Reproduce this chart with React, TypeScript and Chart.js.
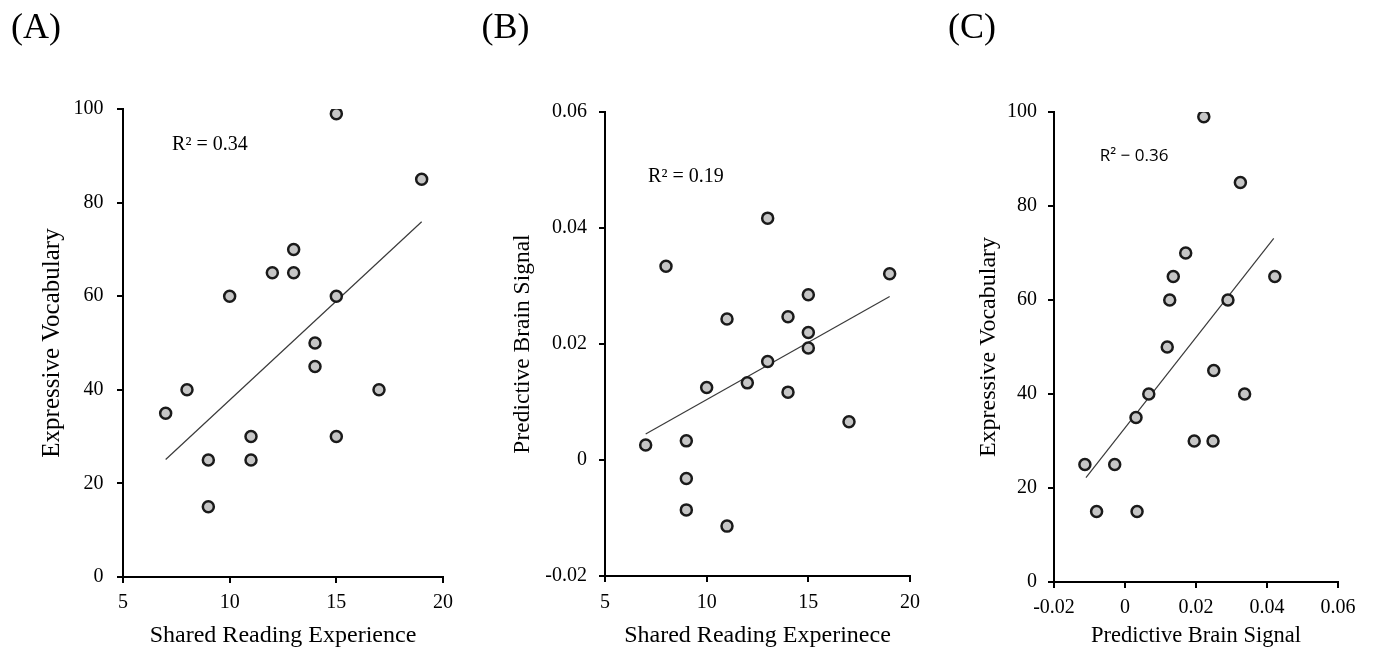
import React, { useEffect, useRef } from 'react';
import { Chart, registerables } from 'chart.js';

Chart.register(...registerables);

// ---------- Panel A: Shared reading vs expressive vocabulary ----------
const readingA = [15, 19, 13, 12, 13, 10, 15, 14, 14, 8, 17, 7, 11, 15, 9, 11, 9];
const vocabA = [99, 85, 70, 65, 65, 60, 60, 50, 45, 40, 40, 35, 30, 30, 25, 25, 15];
const fitA_x = [7, 19];
const fitA_y = [25.1, 75.9];
const r2A = 'R² = 0.34';

// ---------- Panel B: Shared reading vs predictive brain signal ----------
const readingB = [13, 8, 19, 15, 11, 14, 15, 15, 13, 10, 12, 14, 17, 7, 9, 9, 9, 11];
const brainB = [0.0417, 0.0334, 0.0321, 0.0285, 0.0243, 0.0247, 0.022, 0.0193, 0.017, 0.0125, 0.0133, 0.0117, 0.0066, 0.0026, 0.0033, -0.0032, -0.0086, -0.0114];
const fitB_x = [7, 19];
const fitB_y = [0.0045, 0.0282];
const r2B = 'R² = 0.19';

// ---------- Panel C: Predictive brain signal vs expressive vocabulary ----------
const brainC = [0.0222, 0.0325, 0.0171, 0.0136, 0.0422, 0.0126, 0.029, 0.0119, 0.025, 0.0067, 0.0337, 0.0031, 0.0195, 0.0248, -0.0113, -0.0029, -0.008, 0.0034];
const vocabC = [99, 85, 70, 65, 65, 60, 60, 50, 45, 40, 40, 35, 30, 30, 25, 25, 15, 15];
const fitC_x = [-0.011, 0.0419];
const fitC_y = [22.2, 73.1];
const r2C = 'R² − 0.36';

const panelLabels = ['(A)', '(B)', '(C)'];

const SERIF = '"Liberation Serif", "Times New Roman", Times, serif';
const SANS = '"Open Sans", "Liberation Sans", Arial, sans-serif';

const rsqPlugin = {
  id: 'rsqText',
  afterDatasetsDraw(chart: any, _args: any, opts: any) {
    if (!opts || !opts.text) return;
    const { ctx } = chart;
    const xs = chart.scales.x;
    const ys = chart.scales.y;
    ctx.save();
    ctx.font = opts.font;
    ctx.fillStyle = '#000';
    ctx.textAlign = 'left';
    ctx.textBaseline = 'alphabetic';
    ctx.fillText(opts.text, xs.getPixelForValue(opts.x), ys.getPixelForValue(opts.y));
    ctx.restore();
  },
};

function fmt(v: number, dec: number) {
  if (Math.abs(v) < 1e-9) return '0';
  return dec > 0 ? v.toFixed(dec) : String(Math.round(v));
}

interface PanelCfg {
  xs: number[];
  ys: number[];
  fx: number[];
  fy: number[];
  xMin: number; xMax: number; xStep: number; xDec: number;
  yMin: number; yMax: number; yStep: number; yDec: number;
  xTitle: string; yTitle: string;
  xTitleSize: number; yTitleSize: number;
  boxLeft: number; areaLeft: number; areaRight: number; areaTop: number; areaBottom: number;
  yTitlePad: number; yTickPad: number; xTickPad: number;
  r2: { text: string; x: number; y: number; font: string };
}

function makeConfig(p: PanelCfg): any {
  const W = 1374, H = 650;
  const axisCommon = {
    border: { display: true, color: '#000', width: 2 },
    grid: {
      display: true,
      drawOnChartArea: false,
      drawTicks: true,
      tickLength: 6,
      tickWidth: 2,
      tickColor: '#000',
      lineWidth: 2,
      color: '#000',
    },
  };
  return {
    type: 'scatter',
    data: {
      datasets: [
        {
          data: p.xs.map((x, i) => ({ x, y: p.ys[i] })),
          pointRadius: 5.5,
          pointHoverRadius: 5.5,
          pointBackgroundColor: '#c6c6c6',
          pointBorderColor: '#1a1a1a',
          pointBorderWidth: 2.5,
          showLine: false,
        },
        {
          data: p.fx.map((x, i) => ({ x, y: p.fy[i] })),
          showLine: true,
          pointRadius: 0,
          borderColor: '#3a3a3a',
          borderWidth: 1.2,
          fill: false,
        },
      ],
    },
    options: {
      responsive: false,
      animation: false,
      events: [],
      layout: {
        padding: { left: p.boxLeft, top: p.areaTop, right: W - p.areaRight, bottom: 0 },
      },
      plugins: {
        legend: { display: false },
        tooltip: { enabled: false },
        rsqText: p.r2,
      },
      scales: {
        x: {
          type: 'linear',
          position: 'bottom',
          min: p.xMin,
          max: p.xMax,
          ...axisCommon,
          ticks: {
            stepSize: p.xStep,
            color: '#000',
            padding: p.xTickPad,
            maxRotation: 0,
            font: { family: SERIF, size: 20 },
            callback: (v: number) => fmt(v, p.xDec),
          },
          title: {
            display: true,
            text: p.xTitle,
            color: '#000',
            font: { family: SERIF, size: p.xTitleSize },
            padding: { top: 0, bottom: 0 },
          },
          afterFit: (s: any) => { s.height = H - p.areaBottom; },
        },
        y: {
          type: 'linear',
          position: 'left',
          min: p.yMin,
          max: p.yMax,
          ...axisCommon,
          ticks: {
            stepSize: p.yStep,
            color: '#000',
            padding: p.yTickPad,
            font: { family: SERIF, size: 20 },
            callback: (v: number) => fmt(v, p.yDec),
          },
          title: {
            display: true,
            text: p.yTitle,
            color: '#000',
            font: { family: SERIF, size: p.yTitleSize },
            padding: { top: p.yTitlePad, bottom: 0 },
          },
          afterFit: (s: any) => { s.width = p.areaLeft - p.boxLeft; },
        },
      },
    },
    plugins: [rsqPlugin],
  };
}

const panels: PanelCfg[] = [
  {
    xs: readingA, ys: vocabA, fx: fitA_x, fy: fitA_y,
    xMin: 5, xMax: 20, xStep: 5, xDec: 0,
    yMin: 0, yMax: 100, yStep: 20, yDec: 0,
    xTitle: 'Shared Reading Experience', yTitle: 'Expressive Vocabulary',
    xTitleSize: 24, yTitleSize: 25,
    boxLeft: 0, areaLeft: 123, areaRight: 443, areaTop: 109, areaBottom: 577,
    yTitlePad: 37.5, yTickPad: 13.5, xTickPad: 8,
    r2: { text: r2A, x: 7.3, y: 91.2, font: `20px ${SERIF}` },
  },
  {
    xs: readingB, ys: brainB, fx: fitB_x, fy: fitB_y,
    xMin: 5, xMax: 20, xStep: 5, xDec: 0,
    yMin: -0.02, yMax: 0.06, yStep: 0.02, yDec: 2,
    xTitle: 'Shared Reading Experinece', yTitle: 'Predictive Brain Signal',
    xTitleSize: 24, yTitleSize: 23.5,
    boxLeft: 480, areaLeft: 605, areaRight: 910, areaTop: 112, areaBottom: 576,
    yTitlePad: 28.5, yTickPad: 12, xTickPad: 8.5,
    r2: { text: r2B, x: 7.12, y: 0.0479, font: `20px ${SERIF}` },
  },
  {
    xs: brainC, ys: vocabC, fx: fitC_x, fy: fitC_y,
    xMin: -0.02, xMax: 0.06, xStep: 0.02, xDec: 2,
    yMin: 0, yMax: 100, yStep: 20, yDec: 0,
    xTitle: 'Predictive Brain Signal', yTitle: 'Expressive Vocabulary',
    xTitleSize: 22.5, yTitleSize: 24,
    boxLeft: 950, areaLeft: 1054, areaRight: 1338, areaTop: 112, areaBottom: 582,
    yTitlePad: 24, yTickPad: 11, xTickPad: 8,
    r2: { text: r2C, x: -0.0071, y: 89.6, font: `17px ${SANS}` },
  },
];

const labelLefts = [11, 481.5, 948];

export default function App() {
  const refs = [useRef<HTMLCanvasElement>(null), useRef<HTMLCanvasElement>(null), useRef<HTMLCanvasElement>(null)];

  useEffect(() => {
    const charts: Chart[] = [];
    panels.forEach((p, i) => {
      const c = refs[i].current;
      if (c) charts.push(new Chart(c, makeConfig(p)));
    });
    return () => charts.forEach((ch) => ch.destroy());
  }, []);

  return (
    <div style={{ position: 'absolute', left: 0, top: 0, width: 1374, height: 650, background: '#fff', overflow: 'hidden' }}>
      {panels.map((_, i) => (
        <canvas
          key={i}
          ref={refs[i]}
          width={1374}
          height={650}
          style={{ position: 'absolute', left: 0, top: 0, width: 1374, height: 650 }}
        />
      ))}
      {panelLabels.map((t, i) => (
        <div
          key={t}
          style={{
            position: 'absolute',
            left: labelLefts[i],
            top: 8,
            fontFamily: SERIF,
            fontSize: 36,
            lineHeight: '36px',
            color: '#000',
            whiteSpace: 'nowrap',
          }}
        >
          {t}
        </div>
      ))}
    </div>
  );
}
